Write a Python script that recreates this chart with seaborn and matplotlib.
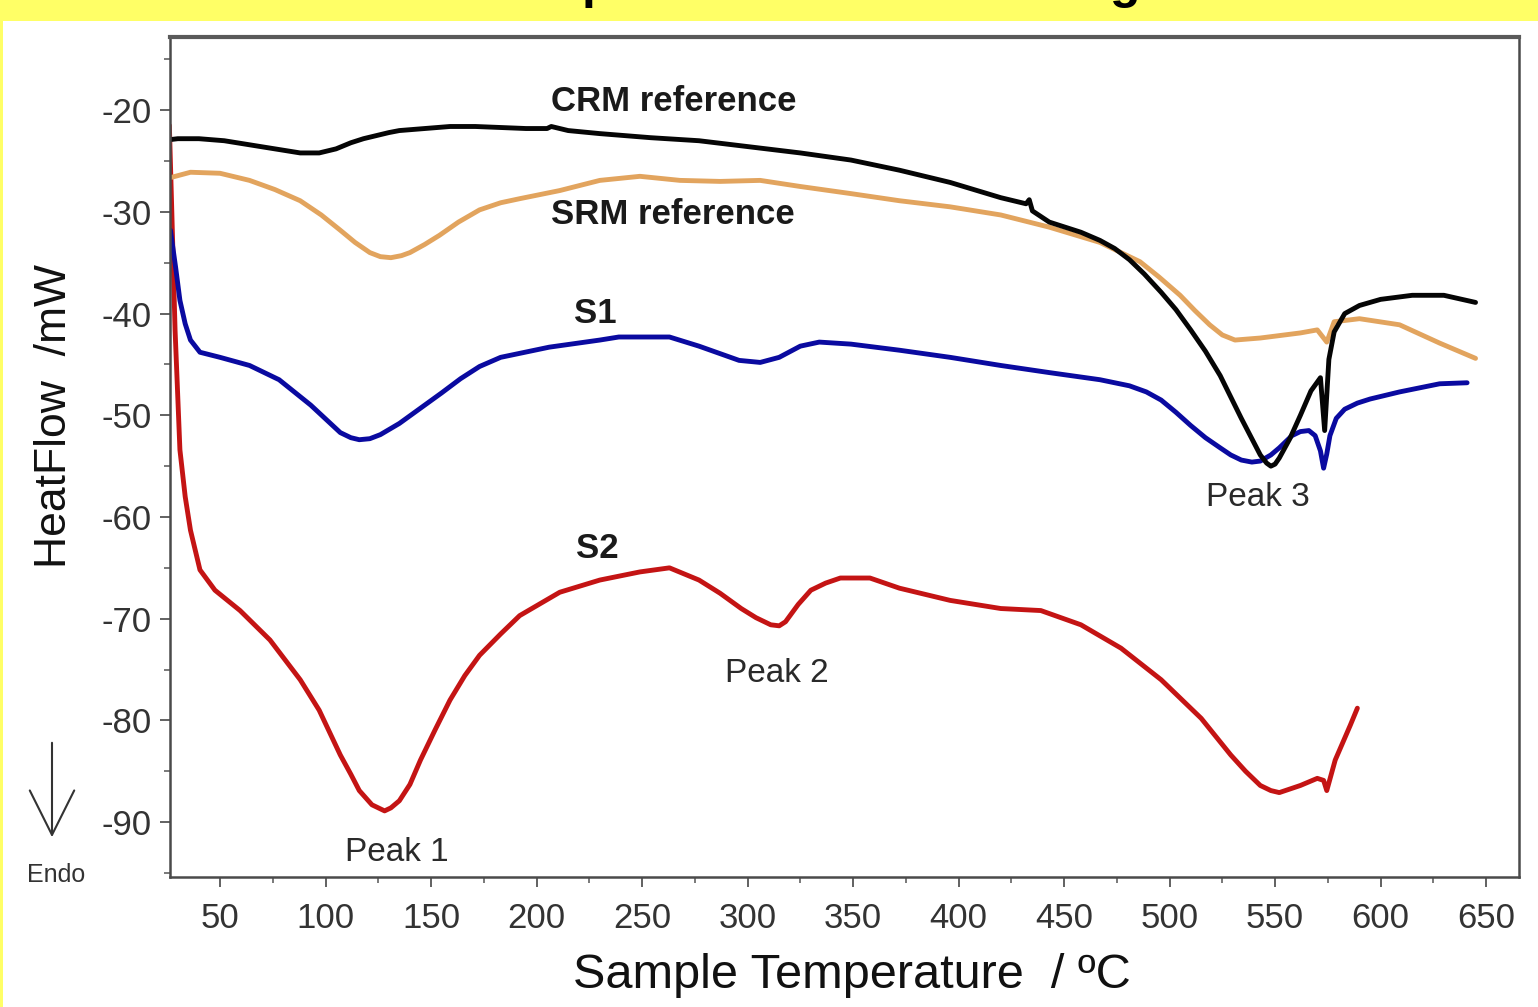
import numpy as np
import pandas as pd
import matplotlib
matplotlib.use("Agg")
import matplotlib.pyplot as plt
import seaborn as sns
from matplotlib.patches import Rectangle, FancyArrowPatch
from matplotlib.ticker import MultipleLocator

# ---------------- data ----------------
crm_T = [26, 30, 40, 52, 64, 76, 88, 97, 105, 112, 118, 124, 130, 135, 147, 159, 171, 183, 195, 205, 207, 215,
         230, 254, 277, 301, 325, 349, 372, 396, 420, 432, 433.5, 435, 443, 458, 467, 474, 481, 488, 496,
         503, 510, 517, 524, 529, 534, 539, 543, 546, 548, 550, 552, 557, 562, 567, 571.5, 573.5, 575.5,
         578, 583, 590, 600, 615, 630, 645]
crm_v = [-22.9, -22.8, -22.8, -23.0, -23.4, -23.8, -24.2, -24.2, -23.8, -23.2, -22.8, -22.5, -22.2, -22.0, -21.8,
         -21.6, -21.6, -21.7, -21.8, -21.8, -21.6, -22.0,
         -22.3, -22.7, -23.0, -23.6, -24.2, -24.9, -25.9, -27.1, -28.6, -29.2, -28.8, -29.9, -31.0,
         -32.0, -32.8, -33.6, -34.7, -36.1, -37.9,
         -39.6, -41.6, -43.7, -46.1, -48.2, -50.3, -52.3, -53.9, -54.7, -55.0, -54.8, -54.2, -52.3, -50.0,
         -47.6, -46.3, -51.5, -44.5,
         -41.8, -40.0, -39.2, -38.6, -38.2, -38.2, -38.9]

srm_T = [27, 36, 50, 64, 76, 88, 98, 107, 114, 121, 126, 131, 136, 140, 147, 154, 163, 173, 183, 192, 211,
         230, 249, 268, 287, 306, 325, 349, 372, 396, 420, 443, 467, 486, 495, 505, 512, 519, 525, 531, 543,
         562, 570, 574.5, 578, 590, 609, 628, 645]
srm_v = [-26.6, -26.1, -26.2, -26.9, -27.8, -28.9, -30.3, -31.8, -33.0, -34.0, -34.4, -34.5, -34.3, -34.0,
         -33.2, -32.3, -31.0, -29.8, -29.1, -28.7, -27.9,
         -26.9, -26.5, -26.9, -27.0, -26.9, -27.5, -28.2, -28.9, -29.5, -30.3, -31.5, -33.0, -34.9,
         -36.4, -38.2, -39.7, -41.1, -42.1, -42.6, -42.4,
         -41.9, -41.6, -42.8, -40.8, -40.5, -41.1, -42.9, -44.4]

s1_T = [26.5, 29, 31, 33.5, 36, 40.5, 50, 64, 78, 93, 107, 112, 116, 121, 126, 135, 145, 155, 164, 173, 183,
        206, 230, 239, 263, 277, 296, 306, 315, 325, 334, 349, 372, 396, 420, 443, 467, 481,
        489, 496, 503, 510, 517, 524, 529, 534, 539, 543, 548, 552, 558, 562, 566, 569, 571.5, 573,
        574.5, 576, 579, 583, 589, 595, 609, 628, 641]
s1_v = [-31.8, -35.5, -38.7, -41.0, -42.6, -43.8, -44.3, -45.1, -46.5, -49.0, -51.7, -52.2, -52.4, -52.3,
        -51.9, -50.8, -49.3, -47.8, -46.4, -45.2, -44.3,
        -43.3, -42.6, -42.3, -42.3, -43.2, -44.6, -44.8, -44.3, -43.2, -42.8, -43.0, -43.6, -44.3,
        -45.1, -45.8, -46.5, -47.1,
        -47.7, -48.5, -49.7, -51.0, -52.2, -53.2, -53.9, -54.4, -54.6, -54.5, -53.9, -53.2, -52.0, -51.6,
        -51.5, -52.0, -53.5, -55.2,
        -53.8, -52.0, -50.3, -49.4, -48.8, -48.4, -47.7, -46.9, -46.8]

s2_T = [26, 27, 28.7, 31, 33.5, 36, 40.5, 47.6, 59.5, 73.7, 88, 97, 107, 112, 116, 122, 128, 131, 135, 140,
        145, 152, 159, 166, 173, 183, 192, 211, 230, 249, 263, 277, 287, 297, 304, 311, 315, 318, 324,
        330, 337, 344, 358, 372, 396, 420, 439, 458, 477, 496, 515, 529, 536, 543, 548, 552, 562, 570, 573,
        574.5, 578.5, 585.6, 589]
s2_v = [-21.5, -28.8, -41.6, -53.4, -58.0, -61.3, -65.2, -67.2, -69.2, -72.1, -76.0, -79.0, -83.4, -85.3,
        -86.9, -88.3, -88.9, -88.6, -87.9, -86.3,
        -83.9, -80.9, -78.0, -75.6, -73.6, -71.5, -69.7, -67.4, -66.2, -65.4, -65.0, -66.2, -67.5,
        -69.0, -69.9, -70.6, -70.7, -70.3, -68.6,
        -67.2, -66.5, -66.0, -66.0, -67.0, -68.2, -69.0, -69.2, -70.6, -72.9, -76.0, -79.8, -83.4, -85.0,
        -86.4, -86.9, -87.1, -86.4, -85.7, -85.9,
        -86.9, -83.9, -80.5, -78.8]

series_names = ["CRM reference", "SRM reference", "S1", "S2"]
series_colors = ["#050505", "#E2A45E", "#0A0AA0", "#C41414"]

x_ticks = [50, 100, 150, 200, 250, 300, 350, 400, 450, 500, 550, 600, 650]
y_ticks = [-90, -80, -70, -60, -50, -40, -30, -20]

label_T = [207, 207, 228, 229]
label_v = [-19.1, -30.3, -40.0, -63.1]
peak_labels = ["Peak 1", "Peak 2", "Peak 3"]
peak_T = [134, 314, 542]
peak_v = [-93.0, -75.4, -58.1]

# ---------------- figure ----------------
sns.set_theme(style="ticks")
plt.rcParams["font.family"] = ["Liberation Sans", "DejaVu Sans"]
plt.rcParams["axes.unicode_minus"] = False

W, H = 1538, 1007
fig = plt.figure(figsize=(W / 100, H / 100), dpi=100, facecolor="white")
ax = fig.add_axes([170 / W, 1 - 877 / H, (1519 - 170) / W, (877 - 37) / H])
ax.set_facecolor("white")

frames = []
for name, T, v in zip(series_names, [crm_T, srm_T, s1_T, s2_T], [crm_v, srm_v, s1_v, s2_v]):
    frames.append(pd.DataFrame({"T": T, "HF": v, "series": name}))
df = pd.concat(frames, ignore_index=True)

# draw S2, S1, SRM, CRM order so black on top
for name, col in zip(series_names[::-1], series_colors[::-1]):
    sub = df[df["series"] == name]
    sns.lineplot(data=sub, x="T", y="HF", ax=ax, color=col, linewidth=3.5,
                 estimator=None, sort=False, legend=False)
for ln in ax.get_lines():
    ln.set_solid_joinstyle("round")
    ln.set_solid_capstyle("round")

ax.set_xlim(26.3, 665.6)
ax.set_ylim(-95.4, -12.8)
ax.set_xticks(x_ticks)
ax.set_yticks(y_ticks)
ax.set_xticklabels([str(t) for t in x_ticks])
ax.set_yticklabels([str(t) for t in y_ticks])
ax.xaxis.set_minor_locator(MultipleLocator(25))
ax.yaxis.set_minor_locator(MultipleLocator(5))
ax.tick_params(axis="both", which="major", direction="out", length=7, width=1.3,
               color="#555555", labelsize=25, labelcolor="#333333")
ax.tick_params(axis="both", which="minor", direction="out", length=4, width=1.1, color="#555555")
ax.tick_params(axis="x", which="major", pad=11)
ax.tick_params(axis="y", which="major", pad=6)

for s in ax.spines.values():
    s.set_visible(True)
    s.set_color("#4a4a4a")
    s.set_linewidth(1.8)
ax.spines["top"].set_linewidth(3.0)
ax.spines["top"].set_color("#5a5a5a")

ax.set_xlabel("Sample Temperature  / \u00baC", fontsize=35, color="#111111", va="center")
ax.xaxis.set_label_coords(0.5 + (852 - 844.5) / 1349, -(975 - 877) / 840)
ax.set_ylabel("HeatFlow  /mW", fontsize=32, color="#111111", va="center")
ax.yaxis.set_label_coords(-(170 - 55) / 1349, 0.5 + (457 - 416) / 840)

for txt, tx, ty in zip(series_names, label_T, label_v):
    ha = "left" if "reference" in txt else "center"
    ax.text(tx, ty, txt, fontsize=25, fontweight="bold", color="#1a1a1a", ha=ha, va="center")
for txt, tx, ty in zip(peak_labels, peak_T, peak_v):
    ax.text(tx, ty, txt, fontsize=24, color="#2a2a2a", ha="center", va="center")

# Endo arrow and label (figure pixel coords)
arrow = FancyArrowPatch((52 / W, 1 - 740 / H), (52 / W, 1 - 840 / H), transform=fig.transFigure,
                        arrowstyle="->,head_length=32,head_width=16", mutation_scale=1,
                        color="#333333", linewidth=1.5)
fig.add_artist(arrow)
fig.text(56 / W, 1 - 875 / H, "Endo", fontsize=18, color="#333333", ha="center", va="center")

# yellow header band and left strip, with cut-off title (as in the reference)
fig.add_artist(Rectangle((0, 1 - 21 / H), 1, 21 / H, transform=fig.transFigure,
                         facecolor="#FFFF66", edgecolor="none", zorder=0))
fig.add_artist(Rectangle((0, 0), 3 / W, 1, transform=fig.transFigure,
                         facecolor="#FFFF66", edgecolor="none", zorder=0))
fig.text(0.5 + 37 / W, 1 + 2 / H, "Comparison of DSC Heating", fontsize=36, fontweight="bold",
         color="black", ha="center", va="baseline")

fig.savefig("out.png", dpi=100, facecolor="white")
